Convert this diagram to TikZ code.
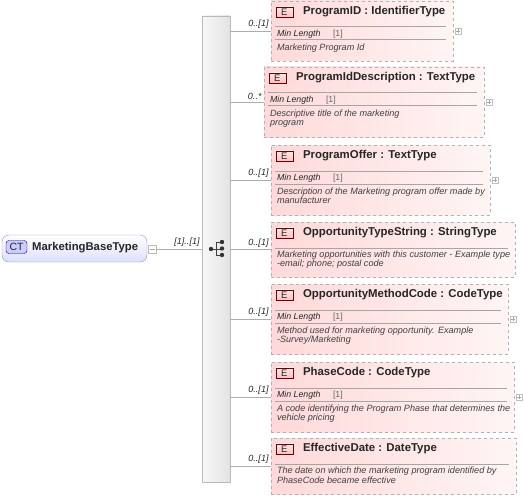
\documentclass[tikz,border=0pt]{standalone}
\usepackage{fontspec}
\setmainfont{Liberation Sans}
\usetikzlibrary{positioning}

\begin{document}
\begin{tikzpicture}[x=1pt,y=-1pt,every node/.style={font=\fontsize{9}{10}\selectfont,inner sep=0pt,text=black!85},
ebox/.style={draw=gray!60,dashed,left color=red!15,right color=red!4},
ebadge/.style={draw=red!45!black,top color=red!8,bottom color=red!25,minimum width=17,minimum height=10,font=\fontsize{9.5}{10}\selectfont},
etitle/.style={anchor=west,font=\bfseries\fontsize{11.4}{12}\selectfont},
esep/.style={draw=gray!70,line width=0.6pt},
emin/.style={anchor=west,font=\itshape\fontsize{8.8}{10}\selectfont},
enum/.style={anchor=west,font=\fontsize{8.8}{10}\selectfont,text=black!60},
edesc/.style={anchor=north west,align=left,font=\itshape\fontsize{9.1}{9.4}\selectfont,text=black!75},
eplus/.style={draw=gray!50,fill=white,minimum size=6,path picture={\draw[gray!70] ([xshift=1pt]path picture bounding box.west)--([xshift=-1pt]path picture bounding box.east) ([yshift=-1pt]path picture bounding box.north)--([yshift=1pt]path picture bounding box.south);}},
ctbox/.style={draw=blue!20!gray!70,rounded corners=7pt,top color=white,bottom color=blue!13},
ctbadge/.style={draw=blue!40!black,rounded corners=3pt,fill=blue!20,minimum width=21,minimum height=13,font=\fontsize{10.5}{11}\selectfont},
cttitle/.style={anchor=west,font=\bfseries\fontsize{11.3}{12}\selectfont},
ctminus/.style={draw=gray!55,fill=white,minimum size=8,path picture={\draw[gray!70] ([xshift=1.5pt]path picture bounding box.west)--([xshift=-1.5pt]path picture bounding box.east);}},
seqbar/.style={draw=gray!55,left color=gray!6,right color=gray!22},
conn/.style={draw=gray!65,line width=0.6pt},
mult/.style={anchor=south east,inner sep=2pt,font=\itshape\fontsize{9}{10}\selectfont}]
\useasboundingbox (0,0) rectangle (524,500);

% complex type
\node[ctbox,minimum width=145,minimum height=27] (ct) at (74.5,248.5) {};
\node[ctbadge] (ctb) at (16.5,247) {CT};
\node[cttitle] (ctt) at (32,247.5) {MarketingBaseType};
\node[ctminus] (ctm) at (152,249) {};

% sequence
\node[seqbar,minimum width=28,minimum height=466] (seq) at (216,249) {};
\draw[black!75,line width=0.8pt] (211,249)--(222,249) (216,242)--(216,255) (216,242)--(222,242) (216,255)--(222,255);
\fill[black!80] (211,249) circle (2.2) (222,242) circle (2.2) (222,248.5) circle (2.2) (222,255) circle (2.2);
\draw[conn] (ctm.east) -- (seq.west |- ctm.east) node[mult] {[1]..[1]};

% ProgramID
\node[ebox,minimum width=182,minimum height=60] (e1) at (362,31) {};
\node[ebadge] (e1b) at ([shift={(13.5,11)}]e1.north west) {E};
\node[etitle] (e1t) at ([shift={(32,11)}]e1.north west) {ProgramID : IdentifierType};
\draw[esep] ([shift={(4,26)}]e1.north west) -- ([shift={(-7,26)}]e1.north east);
\node[emin] (e1m) at ([shift={(6,33)}]e1.north west) {Min Length};
\node[enum] (e1n) at ([shift={(62,33)}]e1.north west) {[1]};
\draw[esep] ([shift={(4,39)}]e1.north west) -- ([shift={(-7,39)}]e1.north east);
\node[edesc] (e1d) at ([shift={(6,43)}]e1.north west) {Marketing Program Id};
\node[eplus] (e1p) at ([xshift=5pt]e1.east) {};
\draw[conn] (seq.east |- e1.west) -- (e1.west) node[mult] {0..[1]};

% ProgramIdDescription
\node[ebox,minimum width=220,minimum height=70] (e2) at (374,102) {};
\node[ebadge] (e2b) at ([shift={(13.5,11)}]e2.north west) {E};
\node[etitle] (e2t) at ([shift={(32,11)}]e2.north west) {ProgramIdDescription : TextType};
\draw[esep] ([shift={(4,26)}]e2.north west) -- ([shift={(-7,26)}]e2.north east);
\node[emin] (e2m) at ([shift={(6,33)}]e2.north west) {Min Length};
\node[enum] (e2n) at ([shift={(62,33)}]e2.north west) {[1]};
\draw[esep] ([shift={(4,39)}]e2.north west) -- ([shift={(-7,39)}]e2.north east);
\node[edesc] (e2d) at ([shift={(6,43)}]e2.north west) {Descriptive title of the marketing\\program};
\node[eplus] (e2p) at ([xshift=5pt]e2.east) {};
\draw[conn] (seq.east |- e2.west) -- (e2.west) node[mult] {0..*};

% ProgramOffer
\node[ebox,minimum width=219,minimum height=70] (e3) at (380.5,180) {};
\node[ebadge] (e3b) at ([shift={(13.5,11)}]e3.north west) {E};
\node[etitle] (e3t) at ([shift={(32,11)}]e3.north west) {ProgramOffer : TextType};
\draw[esep] ([shift={(4,26)}]e3.north west) -- ([shift={(-7,26)}]e3.north east);
\node[emin] (e3m) at ([shift={(6,33)}]e3.north west) {Min Length};
\node[enum] (e3n) at ([shift={(62,33)}]e3.north west) {[1]};
\draw[esep] ([shift={(4,39)}]e3.north west) -- ([shift={(-7,39)}]e3.north east);
\node[edesc] (e3d) at ([shift={(6,43)}]e3.north west) {Description of the Marketing program offer made by\\manufacturer};
\node[eplus] (e3p) at ([xshift=5pt]e3.east) {};
\draw[conn] (seq.east |- e3.west) -- (e3.west) node[mult] {0..[1]};

% OpportunityTypeString
\node[ebox,minimum width=244,minimum height=55] (e4) at (393,249.5) {};
\node[ebadge] (e4b) at ([shift={(13.5,11)}]e4.north west) {E};
\node[etitle] (e4t) at ([shift={(32,11)}]e4.north west) {OpportunityTypeString : StringType};
\draw[esep] ([shift={(4,26)}]e4.north west) -- ([shift={(-7,26)}]e4.north east);
\node[edesc] (e4d) at ([shift={(6,29)}]e4.north west) {Marketing opportunities with this customer - Example type\\-email; phone; postal code};
\draw[conn] (seq.east |- e4.west) -- (e4.west) node[mult] {0..[1]};

% OpportunityMethodCode
\node[ebox,minimum width=237,minimum height=70] (e5) at (389.5,319) {};
\node[ebadge] (e5b) at ([shift={(13.5,11)}]e5.north west) {E};
\node[etitle] (e5t) at ([shift={(32,11)}]e5.north west) {OpportunityMethodCode : CodeType};
\draw[esep] ([shift={(4,26)}]e5.north west) -- ([shift={(-7,26)}]e5.north east);
\node[emin] (e5m) at ([shift={(6,33)}]e5.north west) {Min Length};
\node[enum] (e5n) at ([shift={(62,33)}]e5.north west) {[1]};
\draw[esep] ([shift={(4,39)}]e5.north west) -- ([shift={(-7,39)}]e5.north east);
\node[edesc] (e5d) at ([shift={(6,43)}]e5.north west) {Method used for marketing opportunity. Example\\-Survey/Marketing};
\node[eplus] (e5p) at ([xshift=5pt]e5.east) {};
\draw[conn] (seq.east |- e5.west) -- (e5.west) node[mult] {0..[1]};

% PhaseCode
\node[ebox,minimum width=243,minimum height=70] (e6) at (392.5,397) {};
\node[ebadge] (e6b) at ([shift={(13.5,11)}]e6.north west) {E};
\node[etitle] (e6t) at ([shift={(32,11)}]e6.north west) {PhaseCode : CodeType};
\draw[esep] ([shift={(4,26)}]e6.north west) -- ([shift={(-7,26)}]e6.north east);
\node[emin] (e6m) at ([shift={(6,33)}]e6.north west) {Min Length};
\node[enum] (e6n) at ([shift={(62,33)}]e6.north west) {[1]};
\draw[esep] ([shift={(4,39)}]e6.north west) -- ([shift={(-7,39)}]e6.north east);
\node[edesc] (e6d) at ([shift={(6,43)}]e6.north west) {A code identifying the Program Phase that determines the\\vehicle pricing};
\node[eplus] (e6p) at ([xshift=5pt]e6.east) {};
\draw[conn] (seq.east |- e6.west) -- (e6.west) node[mult] {0..[1]};

% EffectiveDate
\node[ebox,minimum width=245,minimum height=56] (e7) at (393.5,466) {};
\node[ebadge] (e7b) at ([shift={(13.5,11)}]e7.north west) {E};
\node[etitle] (e7t) at ([shift={(32,11)}]e7.north west) {EffectiveDate : DateType};
\draw[esep] ([shift={(4,26)}]e7.north west) -- ([shift={(-7,26)}]e7.north east);
\node[edesc] (e7d) at ([shift={(6,29)}]e7.north west) {The date on which the marketing program identified by\\PhaseCode became effective};
\draw[conn] (seq.east |- e7.west) -- (e7.west) node[mult] {0..[1]};
\end{tikzpicture}
\end{document}
